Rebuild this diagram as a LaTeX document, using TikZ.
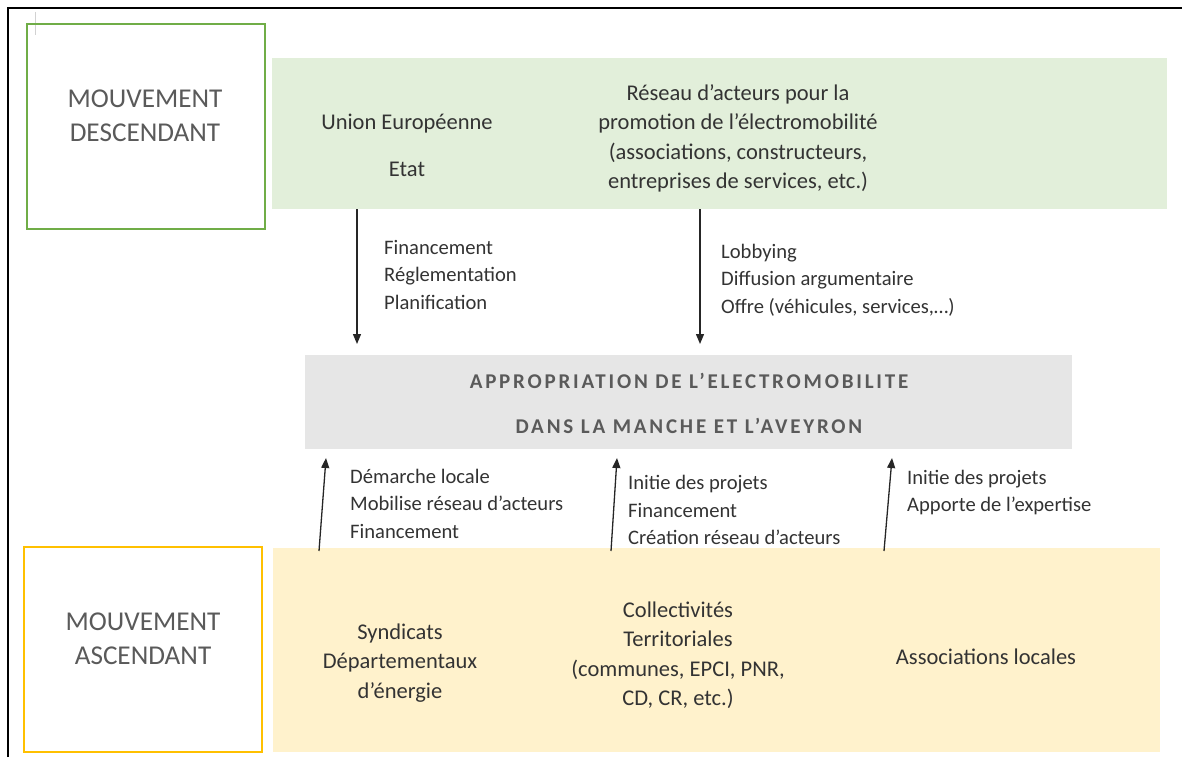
\documentclass[tikz,border=0pt]{standalone}
\usepackage{fontspec}
\setmainfont{Carlito}
\newfontfamily\spacedfont[LetterSpace=13.3]{Carlito}
\usepackage{xcolor}
\usetikzlibrary{arrows.meta,positioning}

\definecolor{fillgreen}{HTML}{E2EFDA}
\definecolor{edgegreen}{HTML}{70AD47}
\definecolor{fillyellow}{HTML}{FFF2CC}
\definecolor{edgeyellow}{HTML}{FFC000}
\definecolor{fillgray}{HTML}{E6E6E6}
\definecolor{txtgray}{HTML}{5A5A5A}
\definecolor{txtdark}{HTML}{333333}

\tikzset{
  boxtext/.style={font=\fontsize{22.5}{29.5}\selectfont,text=txtdark,align=center,inner sep=0pt},
  flowtext/.style={font=\fontsize{20.6}{27.5}\selectfont,text=txtdark,align=left,anchor=west,inner sep=0pt},
  movetext/.style={font=\fontsize{27.2}{34}\selectfont,text=txtgray,align=center,inner sep=0pt},
  coretext/.style={font=\spacedfont\bfseries\fontsize{21}{24}\selectfont,text=txtgray,inner sep=0pt},
  flow/.style={black!85,line width=1.3pt,-{Triangle[length=10pt,width=8pt]}}
}

\begin{document}
\begin{tikzpicture}[x=1pt,y=-1pt]
  \useasboundingbox (0,0) rectangle (1182,757);
  \draw[black,line width=1.6pt] (8,757) -- (8,8) -- (1182,8);
  \draw[gray!35,line width=0.8pt] (35,12) -- (35,35);

  \draw[edgegreen,line width=1.2pt] (27,24) rectangle (265,229);
  \fill[fillgreen] (272,58) rectangle (1167,209);
  \fill[fillgray] (305,355) rectangle (1072,449);
  \draw[edgeyellow,line width=1.2pt] (24,547) rectangle (262,752);
  \fill[fillyellow] (273,548) rectangle (1160,752);

  \node[movetext] (descend) at (145,116) {MOUVEMENT\\DESCENDANT};
  \node[movetext] (ascend) at (143,639) {MOUVEMENT\\ASCENDANT};

  \node[boxtext] (union) at (407,124) {Union Européenne};
  \node[boxtext] (etat) at (407,169) {Etat};
  \node[boxtext] (reseau) at (738,138.5) {Réseau d’acteurs pour la\\promotion de l’électromobilité\\(associations, constructeurs,\\entreprises de services, etc.)};

  \node[coretext] (core1) at (689,381) {APPROPRIATION DE L’ELECTROMOBILITE};
  \node[coretext] (core2) at (689,426) {DANS LA MANCHE ET L’AVEYRON};

  \node[boxtext] (syndicats) at (400,663) {Syndicats\\Départementaux\\d’énergie};
  \node[boxtext] (collect) at (678,655) {Collectivités\\Territoriales\\(communes, EPCI, PNR,\\CD, CR, etc.)};
  \node[boxtext] (assoc) at (986,657) {Associations locales};

  \node[flowtext] (etatflow) at (384,274.5) {Financement\\Réglementation\\Planification};
  \node[flowtext] (reseauflow) at (721,280) {Lobbying\\Diffusion argumentaire\\Offre (véhicules, services,…)};
  \node[flowtext] (syndflow) at (350,503.5) {Démarche locale\\Mobilise réseau d’acteurs\\Financement};
  \node[flowtext] (collflow) at (628,510) {Initie des projets\\Financement\\Création réseau d’acteurs};
  \node[flowtext] (assocflow) at (907,492.5) {Initie des projets\\Apporte de l’expertise};

  \foreach \xa/\ya/\xb/\yb [count=\i] in {357/209/357/344, 700/209/700/344, 319/551/326/458, 611/551/617/458, 884/551/892/458} {
    \coordinate (from\i) at (\xa,\ya);
    \coordinate (to\i) at (\xb,\yb);
    \draw[flow] (from\i) -- (to\i);
  }
\end{tikzpicture}
\end{document}
